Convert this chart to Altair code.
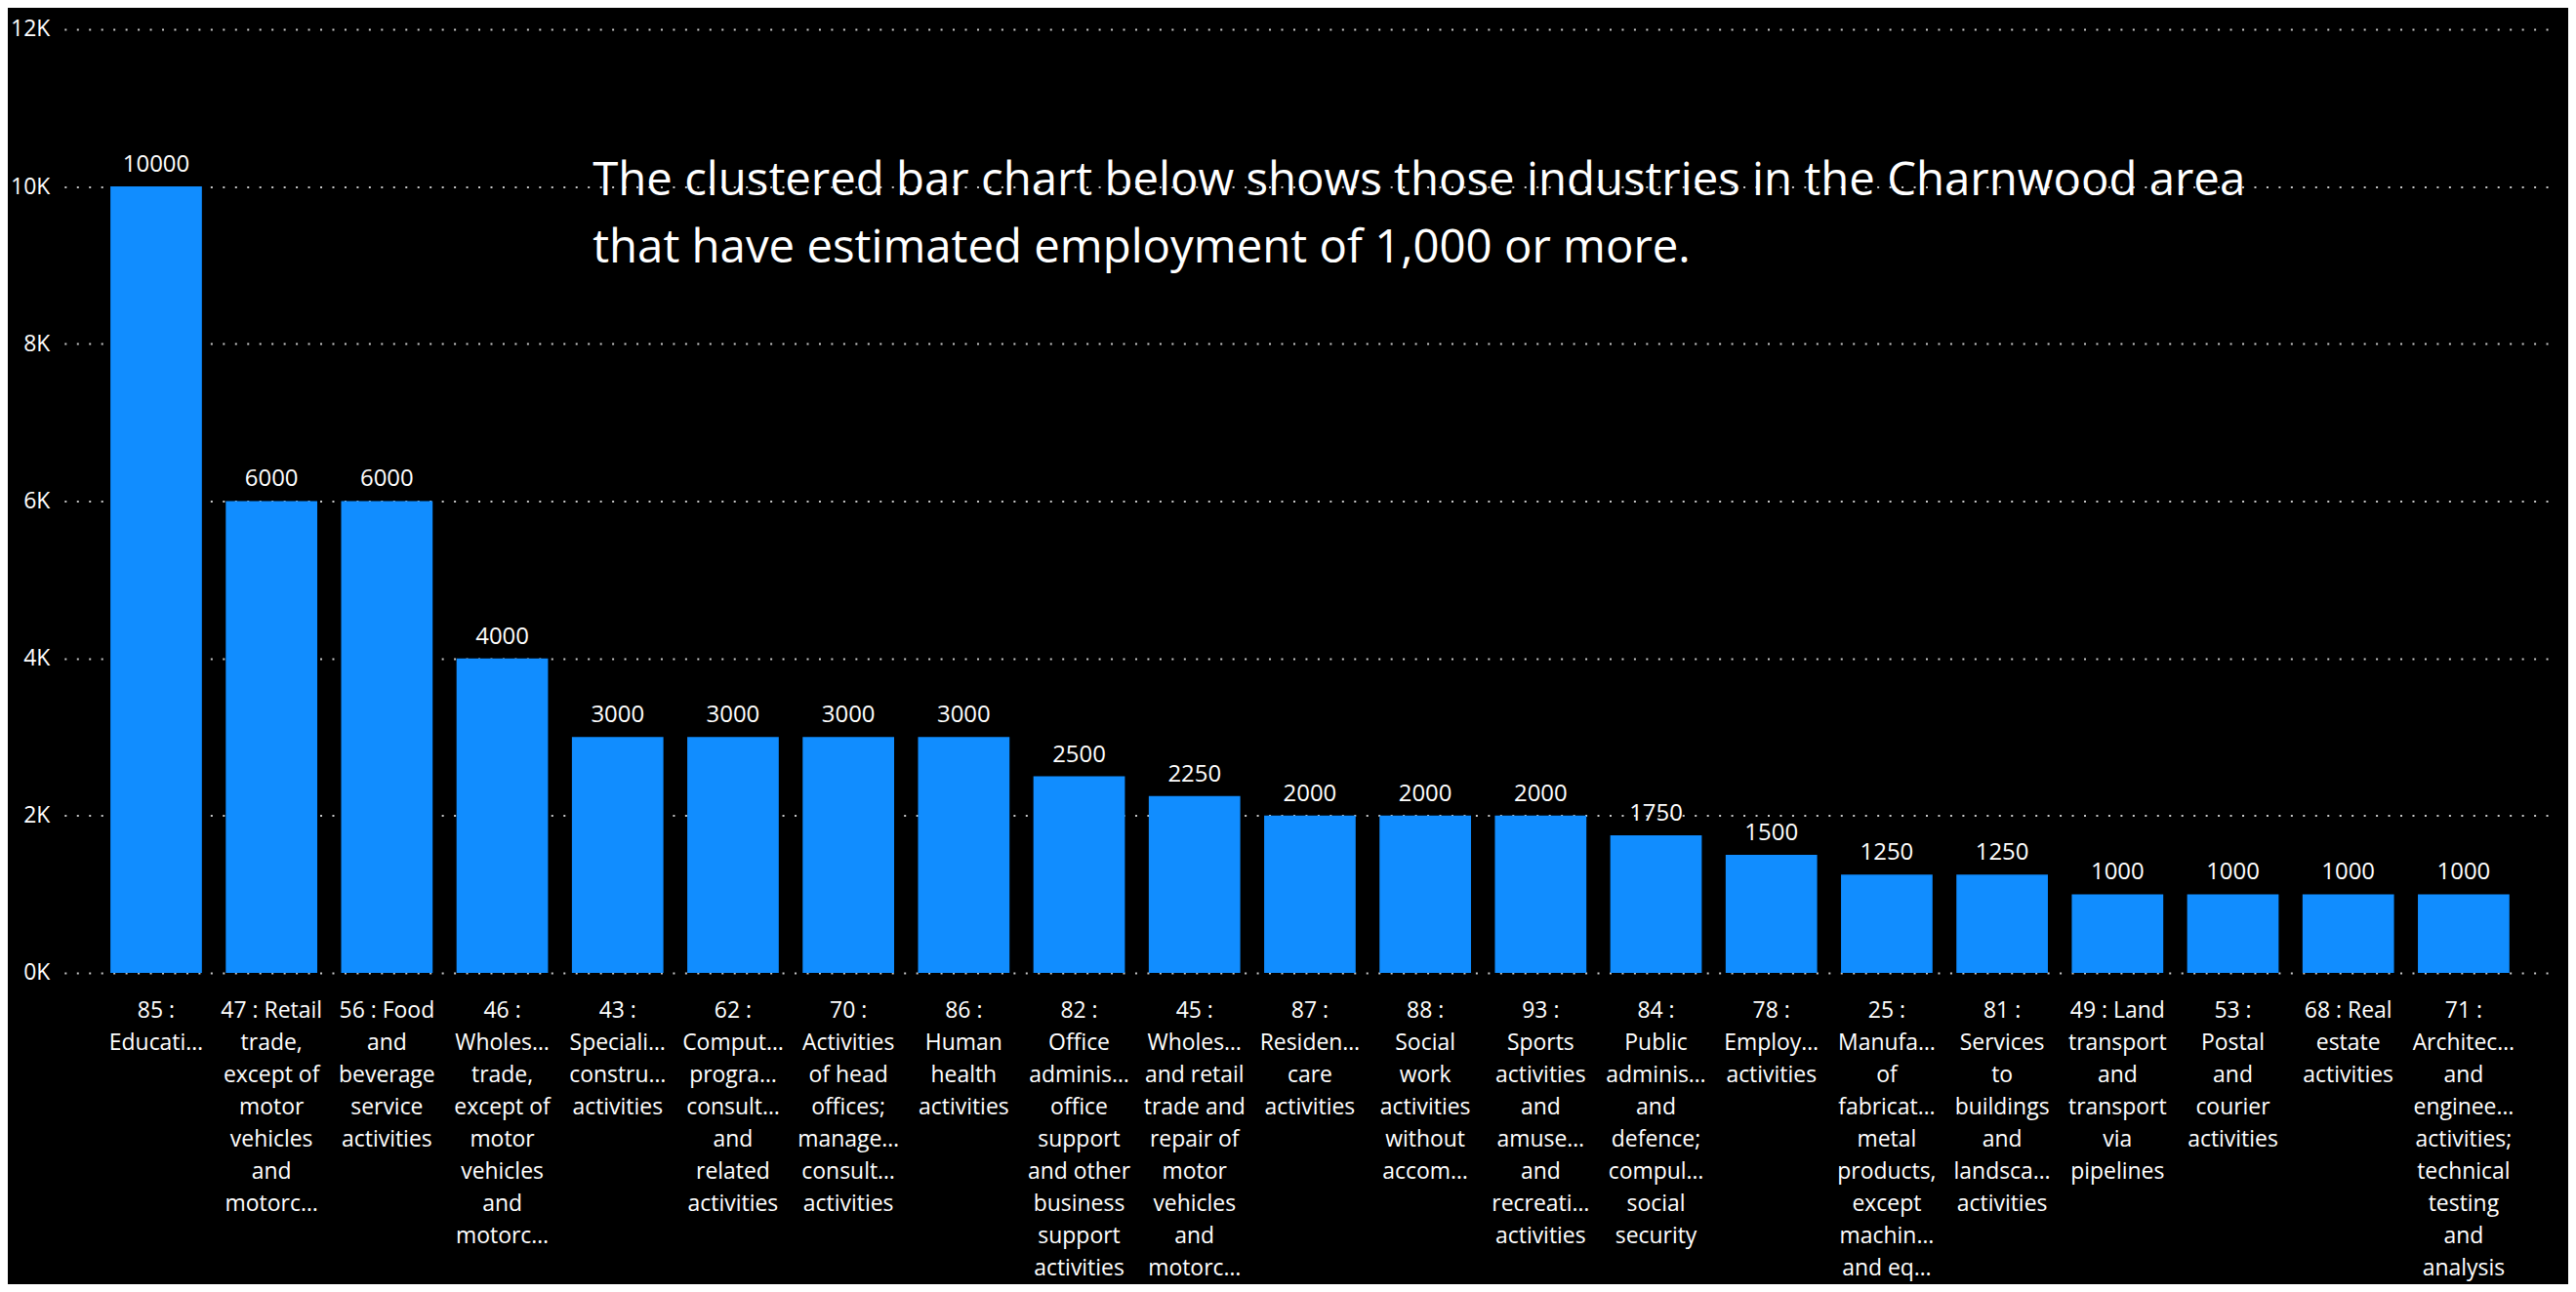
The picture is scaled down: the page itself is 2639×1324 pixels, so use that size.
import altair as alt
import pandas as pd

# Industry labels as wrapped/truncated in the reference (lines separated by \n)
categories = [
    "85 :\nEducati…",
    "47 : Retail\ntrade,\nexcept of\nmotor\nvehicles\nand\nmotorc…",
    "56 : Food\nand\nbeverage\nservice\nactivities",
    "46 :\nWholes…\ntrade,\nexcept of\nmotor\nvehicles\nand\nmotorc…",
    "43 :\nSpeciali…\nconstru…\nactivities",
    "62 :\nComput…\nprogra…\nconsult…\nand\nrelated\nactivities",
    "70 :\nActivities\nof head\noffices;\nmanage…\nconsult…\nactivities",
    "86 :\nHuman\nhealth\nactivities",
    "82 :\nOffice\nadminis…\noffice\nsupport\nand other\nbusiness\nsupport\nactivities",
    "45 :\nWholes…\nand retail\ntrade and\nrepair of\nmotor\nvehicles\nand\nmotorc…",
    "87 :\nResiden…\ncare\nactivities",
    "88 :\nSocial\nwork\nactivities\nwithout\naccom…",
    "93 :\nSports\nactivities\nand\namuse…\nand\nrecreati…\nactivities",
    "84 :\nPublic\nadminis…\nand\ndefence;\ncompul…\nsocial\nsecurity",
    "78 :\nEmploy…\nactivities",
    "25 :\nManufa…\nof\nfabricat…\nmetal\nproducts,\nexcept\nmachin…\nand eq…",
    "81 :\nServices\nto\nbuildings\nand\nlandsca…\nactivities",
    "49 : Land\ntransport\nand\ntransport\nvia\npipelines",
    "53 :\nPostal\nand\ncourier\nactivities",
    "68 : Real\nestate\nactivities",
    "71 :\nArchitec…\nand\nenginee…\nactivities;\ntechnical\ntesting\nand\nanalysis",
]
employment = [10000, 6000, 6000, 4000, 3000, 3000, 3000, 3000, 2500, 2250,
              2000, 2000, 2000, 1750, 1500, 1250, 1250, 1000, 1000, 1000, 1000]

y_ticks = [0, 2000, 4000, 6000, 8000, 10000, 12000]

note_lines = [
    "The clustered bar chart below shows those industries in the Charnwood area",
    "that have estimated employment of 1,000 or more.",
]

FONT = "Segoe UI, Open Sans, sans-serif"
BLUE = "#118DFF"

df = pd.DataFrame({"industry": categories, "employment": employment})

x_enc = alt.X(
    "industry:N",
    sort=categories,
    title=None,
    scale=alt.Scale(paddingInner=0.207, paddingOuter=0.40),
    axis=alt.Axis(
        labelAngle=0,
        labelExpr="split(datum.value, '\\n')",
        labelLineHeight=33,
        labelBaseline="top",
        labelAlign="center",
        labelPadding=28,
        labelLimit=0,
        labelFontSize=23,
        labelColor="#ffffff",
        labelFont=FONT,
        ticks=False,
        domain=False,
        grid=False,
    ),
)
y_enc = alt.Y(
    "employment:Q",
    title=None,
    scale=alt.Scale(domain=[0, 12000], nice=False),
    axis=alt.Axis(
        values=y_ticks,
        labelExpr="(datum.value / 1000) + 'K'",
        labelFontSize=23,
        labelColor="#ffffff",
        labelFont=FONT,
        labelPadding=15,
        ticks=False,
        domain=False,
        grid=True,
        gridColor="#c8c8c8",
        gridDash=[2, 10.5],
        gridWidth=2,
    ),
)

base = alt.Chart(df)

bars = base.mark_bar(color=BLUE).encode(x=x_enc, y=y_enc)

values = base.mark_text(
    baseline="alphabetic",
    dy=-15,
    fontSize=24,
    color="#ffffff",
    font=FONT,
).encode(
    x=alt.X("industry:N", sort=categories),
    y=alt.Y("employment:Q"),
    text=alt.Text("employment:Q", format="d"),
)

note = alt.Chart(pd.DataFrame({"t": ["\n".join(note_lines)]})).mark_text(
    align="left",
    baseline="alphabetic",
    fontSize=47.5,
    lineHeight=69,
    lineBreak="\n",
    color="#ffffff",
    font=FONT,
).encode(
    x=alt.value(543),
    y=alt.value(171),
    text="t:N",
)

chart = (
    alt.layer(bars, values, note)
    .properties(
        width=2560,
        height=970,
        background="#000000",
        padding={"left": 58, "top": 20, "right": 13, "bottom": 318},
        autosize=alt.AutoSizeParams(type="none"),
    )
    .configure_view(stroke=None)
)

chart.save("out.html", embed_options={"renderer": "svg", "actions": False})
